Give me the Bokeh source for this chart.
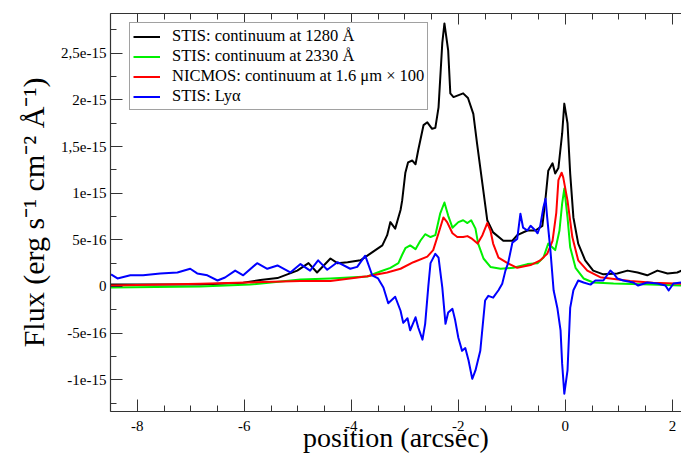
import numpy as np
from bokeh.plotting import figure
from bokeh.models import (LinearAxis, Range1d, FixedTicker, Legend, LegendItem)
from bokeh.embed import file_html
from bokeh.resources import INLINE

# ---------------- data (position in arcsec, flux in units of 1e-16 erg s^-1 cm^-2 A^-1)
FLUX_UNIT = 1e-16

cont1280_x = [-8.49, -7.76, -6.82, -6.02, -5.70, -5.38, -5.01, -4.80, -4.64, -4.39,
              -4.26, -4.07, -3.83, -3.70, -3.55, -3.42, -3.33, -3.27, -3.18, -3.08,
              -3.05, -2.99, -2.94, -2.86, -2.80, -2.75, -2.65, -2.58, -2.49, -2.43,
              -2.37, -2.30, -2.26, -2.19, -2.15, -2.09, -1.91, -1.82, -1.72, -1.65,
              -1.55, -1.46, -1.35, -1.16, -0.99, -0.90, -0.71, -0.56, -0.43, -0.37,
              -0.32, -0.24, -0.19, -0.13, -0.06, -0.02, 0.04, 0.09, 0.15, 0.24,
              0.37, 0.52, 0.71, 0.97, 1.16, 1.35, 1.53, 1.72, 1.91, 2.09, 2.17]
cont1280_f = [0.2, 0.2, 0.2, 0.4, 0.7, 0.9, 1.7, 2.5, 1.5, 3.0,
              2.5, 2.6, 2.8, 3.3, 3.9, 4.4, 5.5, 6.9, 6.2, 8.2,
              9.2, 12.2, 13.3, 13.5, 13.1, 14.6, 17.3, 17.6, 16.9, 17.0,
              19.2, 26.1, 28.2, 25.3, 20.7, 20.3, 20.7, 20.2, 18.5, 15.3,
              11.0, 7.1, 5.8, 4.9, 4.9, 5.5, 6.0, 6.0, 6.5, 9.5,
              12.4, 13.2, 12.1, 12.7, 16.4, 19.6, 17.5, 12.1, 7.4, 4.6,
              2.8, 1.7, 1.3, 1.4, 1.7, 1.5, 1.2, 1.7, 1.4, 1.5, 1.7]

cont2330_x = [-8.49, -6.82, -5.89, -4.95, -4.39, -3.70, -3.46, -3.27, -3.12, -3.05,
              -2.99, -2.90, -2.80, -2.71, -2.62, -2.52, -2.43, -2.34, -2.26, -2.19,
              -2.11, -2.00, -1.91, -1.83, -1.76, -1.68, -1.63, -1.53, -1.40, -1.21,
              -0.97, -0.71, -0.52, -0.41, -0.32, -0.19, -0.11, -0.06, -0.02, 0.04,
              0.09, 0.19, 0.34, 0.52, 0.90, 1.59, 2.17]
cont2330_f = [-0.1, 0.0, 0.2, 0.75, 0.86, 1.07, 1.6, 2.0, 2.5, 3.4,
              4.1, 4.4, 4.0, 4.9, 5.6, 5.3, 5.5, 7.8, 9.0, 7.6,
              6.3, 6.9, 7.1, 6.8, 7.1, 6.2, 4.6, 3.0, 2.1, 1.9,
              2.0, 2.4, 2.5, 3.1, 4.6, 3.9, 6.0, 8.9, 10.5, 7.4,
              4.2, 2.0, 0.86, 0.43, 0.32, 0.21, 0.1]

nicmos_x = [-8.49, -6.82, -4.95, -4.39, -3.70, -3.33, -3.08, -2.84, -2.58, -2.47,
            -2.37, -2.28, -2.21, -2.11, -2.02, -1.91, -1.83, -1.74, -1.64, -1.55,
            -1.46, -1.40, -1.35, -1.25, -1.08, -0.90, -0.65, -0.47, -0.34, -0.24,
            -0.17, -0.13, -0.07, -0.04, 0.04, 0.13, 0.24, 0.41, 0.65, 1.21,
            1.64, 2.17]
nicmos_f = [0.1, 0.3, 0.6, 0.6, 1.1, 1.5, 1.9, 2.6, 3.2, 3.9,
            5.7, 7.4, 6.9, 5.7, 5.3, 5.3, 5.4, 5.1, 4.6, 5.5,
            6.8, 6.0, 4.6, 3.1, 2.5, 2.0, 2.3, 2.8, 3.5, 4.9,
            7.9, 11.4, 12.2, 11.7, 9.2, 5.3, 2.8, 1.7, 1.0, 0.6,
            0.4, 0.3]

lya_x = [-8.49, -8.37, -8.13, -7.89, -7.57, -7.25, -7.01, -6.88, -6.69, -6.50,
         -6.36, -6.17, -6.02, -5.76, -5.57, -5.38, -5.14, -4.95, -4.77, -4.62,
         -4.45, -4.26, -4.02, -3.89, -3.74, -3.61, -3.50, -3.40, -3.31, -3.18,
         -3.08, -3.03, -2.95, -2.90, -2.80, -2.75, -2.67, -2.62, -2.56, -2.52,
         -2.43, -2.37, -2.30, -2.24, -2.19, -2.11, -2.06, -2.00, -1.93, -1.87,
         -1.81, -1.74, -1.68, -1.59, -1.50, -1.44, -1.35, -1.25, -1.18, -1.12,
         -1.07, -0.99, -0.90, -0.84, -0.79, -0.71, -0.65, -0.56, -0.52, -0.47,
         -0.41, -0.37, -0.34, -0.28, -0.22, -0.15, -0.09, -0.06, -0.02, 0.04,
         0.09, 0.15, 0.24, 0.34, 0.47, 0.56, 0.71, 0.84, 0.90, 0.97,
         1.08, 1.27, 1.36, 1.53, 1.72, 1.87, 1.93, 2.02, 2.17]
lya_f = [1.3, 0.86, 1.2, 1.2, 1.4, 1.5, 1.9, 1.4, 1.2, 0.64,
         0.96, 1.7, 1.2, 2.5, 1.9, 2.25, 1.5, 2.4, 1.7, 2.8,
         1.8, 2.6, 1.9, 2.1, 3.3, 1.2, 0.86, -0.1, -1.8, -1.1,
         -2.6, -3.9, -3.4, -4.7, -3.3, -4.4, -5.7, -4.0, 0.1, 2.5,
         3.5, 3.1, -0.1, -4.0, -2.8, -2.4, -3.6, -5.5, -6.9, -6.6,
         -7.9, -9.9, -9.0, -6.9, -1.5, -1.0, -1.2, -0.4, 0.3, 1.7,
         2.5, 4.7, 5.1, 7.8, 6.3, 6.0, 6.5, 6.0, 5.7, 6.5,
         8.5, 9.4, 7.4, 3.9, -0.4, -2.3, -4.7, -8.3, -11.5, -9.0,
         -2.3, -0.4, 0.64, 0.43, 0.2, 0.64, 0.64, 1.7, 1.4, 0.86,
         0.64, 0.43, 0.1, 0.43, 0.32, 0.1, -0.43, 0.32, 0.43]

series_labels = ["STIS: continuum at 1280 Å",
                 "STIS: continuum at 2330 Å",
                 "NICMOS: continuum at 1.6 μm × 100",
                 "STIS: Lyα"]

y_major = [-1e-15, -5e-16, 0.0, 5e-16, 1e-15, 1.5e-15, 2e-15, 2.5e-15]
y_major_labels = ["-1e-15", "-5e-16", "0", "5e-16", "1e-15", "1,5e-15", "2e-15", "2,5e-15"]
y_minor = [-1.25e-15, -7.5e-16, -2.5e-16, 2.5e-16, 7.5e-16, 1.25e-15, 1.75e-15,
           2.25e-15, 2.75e-15]
x_major = [-8, -6, -4, -2, 0, 2]
x_major_labels = ["-8", "-6", "-4", "-2", "0", "2"]
x_minor = [-8.5, -7.5, -7, -6.5, -5.5, -5, -4.5, -3.5, -3, -2.5, -1.5, -1, -0.5,
           0.5, 1, 1.5]

# ---------------- layout / style
X0, X1 = -8.5, 2.17
Y0, Y1 = -1.34e-15, 2.926e-15
W, H = 681, 455
LEFT, TOP, BOTTOM = 110, 13, 44
FONT = "Liberation Serif"
AXC = "#333333"

p = figure(width=W, height=H, output_backend="svg", toolbar_location=None,
           x_range=Range1d(X0, X1), y_range=Range1d(Y0, Y1),
           x_axis_type=None, y_axis_type=None,
           min_border_left=LEFT, min_border_right=0,
           min_border_top=TOP, min_border_bottom=BOTTOM)
p.outline_line_color = None
p.background_fill_color = "white"
p.border_fill_color = "white"
p.xgrid.visible = False
p.ygrid.visible = False


def style_axis(ax, tick_in, minor_in):
    ax.axis_line_color = AXC
    ax.axis_line_width = 1.2
    ax.major_tick_line_color = AXC
    ax.minor_tick_line_color = AXC
    ax.major_tick_in = tick_in
    ax.major_tick_out = 0
    ax.minor_tick_in = minor_in
    ax.minor_tick_out = 0
    ax.major_label_text_font = FONT
    ax.major_label_text_font_size = "15px"
    ax.major_label_text_color = "black"
    ax.axis_label_text_font = FONT
    ax.axis_label_text_font_style = "normal"
    ax.axis_label_text_color = "black"


xticker = FixedTicker(ticks=x_major, minor_ticks=x_minor)
yticker = FixedTicker(ticks=y_major, minor_ticks=y_minor)

xaxis = LinearAxis(ticker=xticker)
style_axis(xaxis, 12, 6)
xaxis.major_label_overrides = {t: s for t, s in zip(x_major, x_major_labels)}
xaxis.major_label_standoff = 9
xaxis.axis_label = "position (arcsec)"
xaxis.axis_label_text_font_size = "28px"
xaxis.axis_label_text_line_height = 1.0
xaxis.axis_label_standoff = -12
p.add_layout(xaxis, "below")

# top frame edge with inward ticks and no labels
topaxis = LinearAxis(ticker=xticker)
style_axis(topaxis, 11, 6)
topaxis.major_label_text_color = None
topaxis.major_label_text_font_size = "0px"
topaxis.major_label_standoff = 0
p.add_layout(topaxis, "above")

yaxis = LinearAxis(ticker=yticker)
style_axis(yaxis, 12, 6)
yaxis.major_label_overrides = {t: s for t, s in zip(y_major, y_major_labels)}
yaxis.major_label_standoff = 4
yaxis.axis_label = "Flux (erg s\u207b\u00b9 cm\u207b\u00b2 \u00c5\u207b\u00b9)"
yaxis.axis_label_text_font_size = "30px"
yaxis.axis_label_standoff = 8
p.add_layout(yaxis, "left")

# ---------------- curves
colors = ["#000000", "#00f000", "#ff0000", "#0000ff"]
data = [(cont1280_x, cont1280_f), (cont2330_x, cont2330_f),
        (nicmos_x, nicmos_f), (lya_x, lya_f)]
renderers = []
for (xs, fs), c in zip(data, colors):
    r = p.line(np.array(xs), np.array(fs) * FLUX_UNIT, line_color=c, line_width=2,
               line_join="round")
    renderers.append(r)

legend = Legend(items=[LegendItem(label=l, renderers=[r])
                       for l, r in zip(series_labels, renderers)])
legend.location = (19, 301)
legend.label_text_font = FONT
legend.label_text_font_size = "16.5px"
legend.label_text_color = "black"
legend.glyph_width = 27
legend.glyph_height = 17
legend.label_height = 17
legend.label_standoff = 12
legend.spacing = 0
legend.padding = 3
legend.margin = 0
legend.border_line_color = "#444444"
legend.border_line_width = 1
legend.background_fill_color = "white"
legend.background_fill_alpha = 1.0
p.add_layout(legend, "center")

open("out.html", "w").write(file_html(p, INLINE))
